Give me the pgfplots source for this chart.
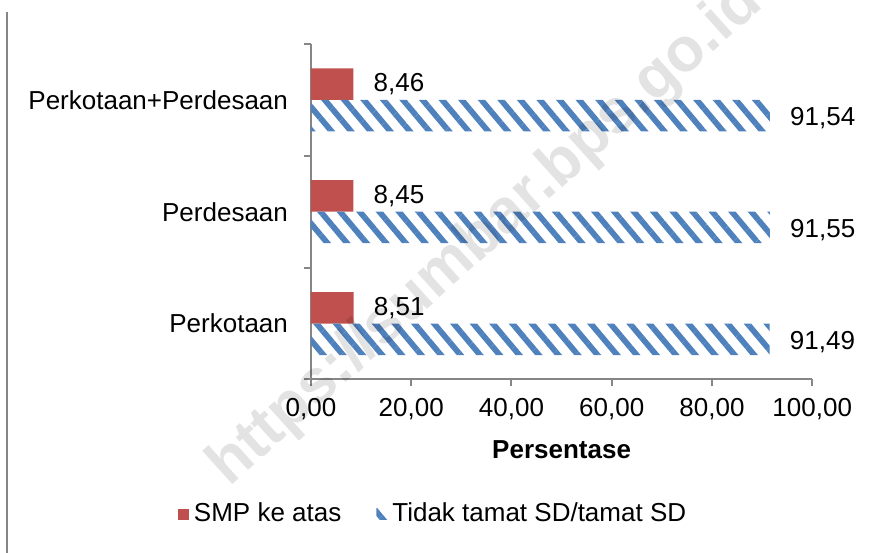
\documentclass[border=0pt]{standalone}
\usepackage{fontspec}
\setmainfont{Liberation Sans}
\usepackage{pgfplots}
\pgfplotsset{compat=1.18}
\usetikzlibrary{patterns.meta}
\definecolor{smpred}{HTML}{C0504D}
\definecolor{sdblue}{HTML}{4F81BD}
\definecolor{axisgray}{HTML}{868686}
\pgfplotsset{/pgf/number format/assume math mode=true}

\begin{document}
\begin{tikzpicture}[font=\fontsize{10.4}{12.5}\selectfont]
\useasboundingbox (0,0) rectangle (351.2pt,221.2pt);
% page rule on the left
\draw[axisgray, line width=0.8pt] (2.8pt,0) -- (2.8pt,216.4pt);
\begin{axis}[
  at={(124.4pt,69.4pt)}, anchor=south west,
  scale only axis, width=200.5pt, height=134.2pt,
  xbar, bar width=12.6pt,
  xmin=0, xmax=100, ymin=-0.5, ymax=2.5,
  enlargelimits=false,
  axis x line*=bottom, axis y line*=left,
  axis line style={draw=axisgray, line width=0.8pt, -},
  every outer x axis line/.append style={-},
  every outer y axis line/.append style={-},
  tick align=outside, major tick length=2.8pt,
  tick style={draw=axisgray, line width=0.8pt},
  xtick={0,20,...,100},
  scaled x ticks=false,
  xticklabel={\pgfmathprintnumber[fixed,fixed zerofill,precision=2,use comma]{\tick}},
  xticklabel style={yshift=-1.4pt},
  ytick={-0.5,0.5,1.5,2.5}, yticklabels={,,,},
  extra y ticks={0,1,2},
  extra y tick labels={Perkotaan,Perdesaan,Perkotaan+Perdesaan},
  extra y tick style={major tick length=0pt, yticklabel style={xshift=-5.7pt}},
  xlabel={\textbf{Persentase}},
  xlabel style={yshift=-1.4pt},
  point meta=x,
  nodes near coords={\pgfmathprintnumber[fixed,fixed zerofill,precision=2,use comma]{\pgfplotspointmeta}},
  nodes near coords style={anchor=west, xshift=4.6pt, text=black},
  legend image code/.code={\draw[#1, draw=none] (0pt,-2.2pt) rectangle (4.4pt,2.2pt);},
  legend style={at={(0.2465,-0.401)}, anchor=center, draw=none, fill=none,
    legend columns=2,
    /tikz/every even column/.append style={column sep=12pt}},
]
\addplot[fill=smpred, draw=none, bar shift=6.3pt]
  coordinates {(8.51,0) (8.45,1) (8.46,2)};
\addplot[pattern={Lines[angle=-50,distance=6pt,line width=2.3pt]}, pattern color=sdblue,
  draw=none, bar shift=-6.3pt,
  nodes near coords style={yshift=-1pt}]
  coordinates {(91.49,0) (91.55,1) (91.54,2)};
\legend{SMP ke atas, Tidak tamat SD/tamat SD}
\end{axis}
% watermark
\begin{scope}
\clip (0,0) rectangle (351.2pt,221.2pt);
\node[rotate=42, text=black, opacity=0.11, font=\fontsize{24.8}{30}\selectfont\bfseries]
  at (194.4pt,127.2pt) {https://sumbar.bps.go.id};
\end{scope}
\end{tikzpicture}
\end{document}
